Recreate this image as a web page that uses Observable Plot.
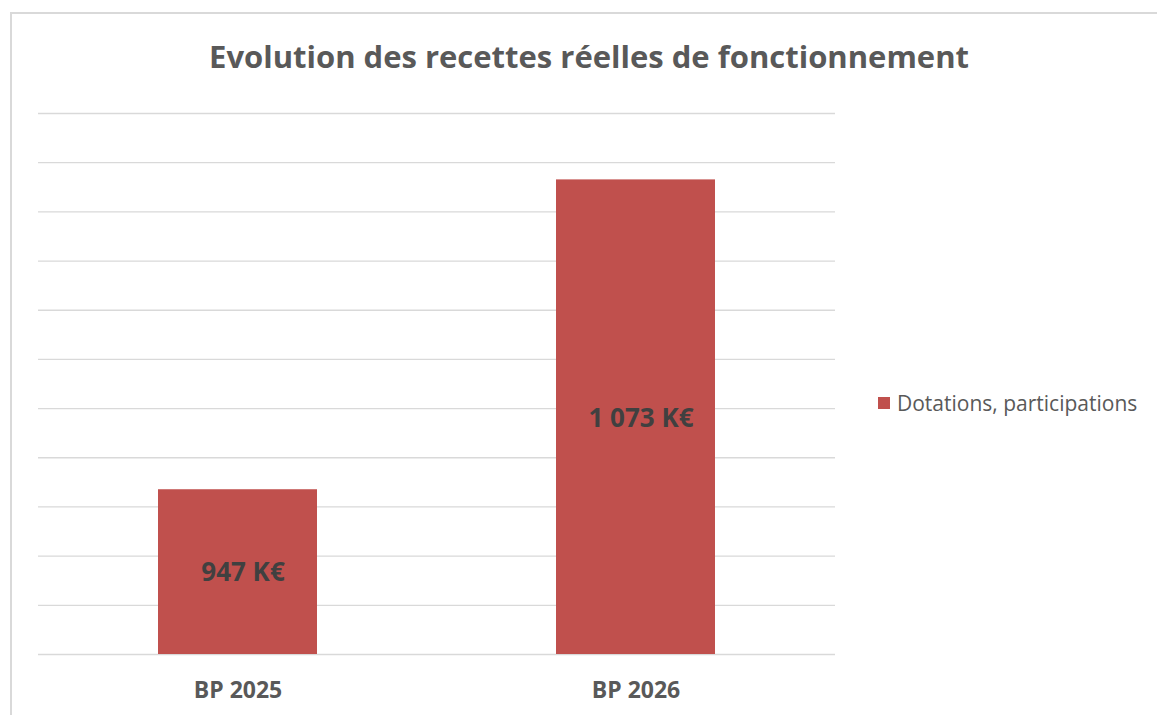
<!DOCTYPE html>
<html>
<head>
<meta charset="utf-8">
<script src="https://cdn.jsdelivr.net/npm/d3@7"></script>
<script src="https://cdn.jsdelivr.net/npm/@observablehq/plot@0.6"></script>
<style>
  html, body { margin: 0; padding: 0; background: #fff; width: 1157px; height: 715px; overflow: hidden; }
  #frame { position: absolute; left: 10px; top: 12px; width: 1200px; height: 800px; border: 2px solid #d9d9d9; box-sizing: border-box; }
  #title { position: absolute; left: 0; top: 36px; width: 1178px; text-align: center; font-family: "Open Sans", sans-serif; font-weight: 700; font-size: 31px; line-height: 40px; color: #595959; }
  #chart { position: absolute; left: 0; top: 0; }
  #legend { position: absolute; left: 878px; top: 388px; font-family: "Open Sans", sans-serif; font-size: 21px; line-height: 30px; color: #595959; display: flex; align-items: center; }
  #legend .sw { width: 12px; height: 12px; background: #c0504d; margin-right: 7px; }
</style>
</head>
<body>
<div id="frame"></div>
<div id="chart"></div>
<div id="title">Evolution des recettes réelles de fonctionnement</div>
<div id="legend"><span class="sw"></span><span>Dotations, participations</span></div>
<script>
const categories = ["BP 2025", "BP 2026"];
const values = [947, 1073];
const labels = ["947 K€", "1 073 K€"];
const seriesName = "Dotations, participations";
const yMin = 880, yMax = 1100, yStep = 20;
const gridTicks = d3.range(yMin, yMax + yStep / 2, yStep);

const data = categories.map((c, i) => ({cat: c, value: values[i], label: labels[i], base: yMin}));

const chart = Plot.plot({
  width: 860,
  height: 715,
  marginLeft: 38,
  marginRight: 25,
  marginTop: 113,
  marginBottom: 61,
  style: {fontFamily: "Open Sans, sans-serif", background: "transparent"},
  x: {domain: categories, paddingInner: 0.6, paddingOuter: 0.3, label: null},
  y: {domain: [yMin, yMax], axis: null},
  marks: [
    Plot.ruleY(gridTicks, {stroke: "#d9d9d9", strokeWidth: 1.3, strokeOpacity: 1}),
    Plot.barY(data, {x: "cat", y1: "base", y2: "value", fill: "#c0504d"}),
    Plot.text(data, {x: "cat", y: d => (d.base + d.value) / 2, text: "label", fill: "#404040", fontSize: 26, fontWeight: 700, dx: 5, dy: 1}),
    Plot.axisX({tickSize: 0, tickPadding: 27, fontSize: 23, fontWeight: 700, color: "#595959", label: null})
  ]
});
chart.querySelectorAll("g[aria-label='x-axis tick label'] text, g[aria-label='x-axis tick label']").forEach(t => { t.setAttribute("font-weight", "700"); t.setAttribute("fill", "#595959"); });
document.getElementById("chart").appendChild(chart);
</script>
</body>
</html>
